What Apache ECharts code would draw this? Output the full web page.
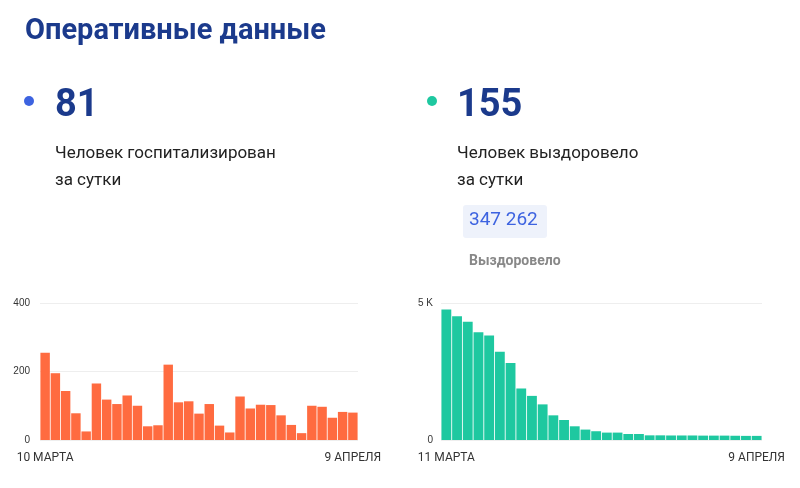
<!DOCTYPE html><html><head><meta charset="utf-8">
<script src="https://cdn.jsdelivr.net/npm/echarts@6/dist/echarts.min.js"></script>
<style>body{margin:0;background:#fff}#c{width:800px;height:488px}</style></head><body><div id="c"></div><script>
const hospValues=[255,195,143,78,25,165,118,105,130,100,40,43,220,110,113,77,105,42,22,127,92,103,102,72,44,20,100,97,65,82,80];
const recValues=[4760,4520,4320,3930,3810,3220,2810,1880,1610,1300,900,730,500,380,320,270,270,220,220,170,170,165,165,165,160,160,160,155,150,150];
const hospLabels=['10 МАРТА','9 АПРЕЛЯ'];
const recLabels=['11 МАРТА','9 АПРЕЛЯ'];
const hospCats=hospValues.map((v,i)=>i);
const recCats=recValues.map((v,i)=>i);
const dark='#1b3a8c';
const ch=echarts.init(document.getElementById('c'));
function xAx(idx,cats,labels){return {type:'category',gridIndex:idx,data:cats,axisLine:{show:false},axisTick:{show:false},
 axisLabel:{interval:0,fontSize:12,color:'#333',fontFamily:'Roboto',margin:12,formatter:(v,i)=>i===0?labels[0]:(i===cats.length-1?labels[1]:'')}};}
ch.setOption({
 title:[{text:'Оперативные данные',left:20,top:12,textStyle:{fontSize:29,fontWeight:'bold',color:dark,fontFamily:'Roboto'}},
  {text:'81',left:50,top:82,textStyle:{fontSize:38,fontWeight:'bold',color:dark,fontFamily:'Roboto'}},
  {text:'155',left:452,top:82,textStyle:{fontSize:38,fontWeight:'bold',color:dark,fontFamily:'Roboto'}},
  {text:'Человек госпитализирован\nза сутки',left:50,top:135,textStyle:{fontSize:17,fontWeight:'normal',color:'#222',lineHeight:27,fontFamily:'Roboto'}},
  {text:'Человек выздоровело\nза сутки',left:452,top:135,textStyle:{fontSize:17,fontWeight:'normal',color:'#222',lineHeight:27,fontFamily:'Roboto'}},
  {text:'Выздоровело',left:464,top:249,textStyle:{fontSize:14,fontWeight:'bold',color:'#888',fontFamily:'Roboto'}}],
 graphic:[{type:'circle',shape:{cx:29,cy:101,r:5},style:{fill:'#3d63e0'}},
  {type:'circle',shape:{cx:432,cy:101,r:5},style:{fill:'#1ec8a0'}},
  {type:'rect',shape:{x:463,y:205,width:84,height:33,r:3},style:{fill:'#eef2fb'}},
  {type:'text',x:469,y:211,style:{text:'347 262',fontSize:19,fill:'#3d63e0',fontFamily:'Roboto'}}],
 grid:[{left:40,right:442,top:303,bottom:48},{left:441,right:38,top:303,bottom:48}],
 xAxis:[xAx(0,hospCats,hospLabels),xAx(1,recCats,recLabels)],
 yAxis:[{type:'value',gridIndex:0,min:0,max:400,interval:200,splitLine:{lineStyle:{color:'#eee'}},axisLabel:{fontSize:10,color:'#333',margin:10}},
  {type:'value',gridIndex:1,min:0,max:5000,interval:5000,splitLine:{lineStyle:{color:'#eee'}},axisLabel:{fontSize:10,color:'#333',formatter:v=>v?'5 K':'0'}}],
 series:[{type:'bar',xAxisIndex:0,yAxisIndex:0,data:hospValues,barCategoryGap:'8%',itemStyle:{color:'#ff6b40'}},
  {type:'bar',xAxisIndex:1,yAxisIndex:1,data:recValues,barCategoryGap:'8%',itemStyle:{color:'#1ec8a0'}}]
});
</script></body></html>
